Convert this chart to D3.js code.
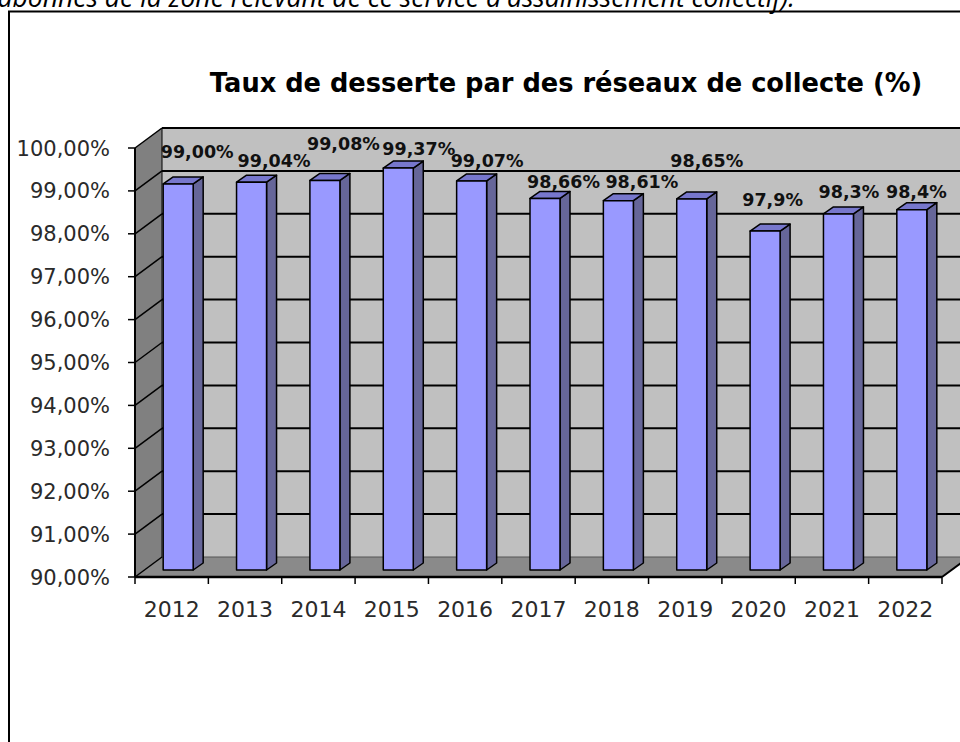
<!DOCTYPE html>
<html>
<head>
<meta charset="utf-8">
<script src="https://cdn.jsdelivr.net/npm/d3@7"></script>
<style>
  html, body { margin: 0; padding: 0; background: #fff; }
  svg { display: block; }
</style>
</head>
<body>
<svg id="chart" width="960" height="742"></svg>
<script>
// ---- data ----
const years = ["2012","2013","2014","2015","2016","2017","2018","2019","2020","2021","2022"];
const values = [99.00, 99.04, 99.08, 99.37, 99.07, 98.66, 98.61, 98.65, 97.9, 98.3, 98.4];
const valueLabels = ["99,00%","99,04%","99,08%","99,37%","99,07%","98,66%","98,61%","98,65%","97,9%","98,3%","98,4%"];
const yTicks = [90, 91, 92, 93, 94, 95, 96, 97, 98, 99, 100];
const titleText = "Taux de desserte par des réseaux de collecte (%)";
const topText = "abonnés de la zone relevant de ce service d'assainissement collectif).";

// ---- layout (manual label nudges as in the original) ----
const labelDx = [19, 22.5, 18.5, 20.5, 15.5, 18.5, 23.5, 15, 7.5, 10.5, 4.5];
const labelDy = [-26, -15, -30.5, -13, -14, -10.5, -12.6, -32, -25, -16, -11.6];

const svg = d3.select("#chart");
const fontAxis = "'DejaVu Sans', sans-serif";

const x = d3.scaleBand().domain(years).range([135, 942]).padding(0);
const y = d3.scaleLinear().domain([90, 100]).range([577, 148]);

const D = {dx: 27, dy: -20};      // wall depth
const B = {dx: 10, dy: -7};       // bar front plane offset / bar depth
const barW = 30;

// top italic text (cut off at the top edge, as in the original page capture)
svg.append("text")
  .attr("x", 795).attr("y", 7)
  .attr("text-anchor", "end")
  .style("font-family", "'Open Sans', sans-serif")
  .style("font-style", "italic")
  .style("font-size", "26.5px")
  .attr("fill", "#000")
  .text(topText);

// frame
svg.append("path")
  .attr("d", "M9,742 L9,11.5 L960,11.5")
  .attr("fill", "none").attr("stroke", "#000").attr("stroke-width", 2);

// title
svg.append("text")
  .attr("x", 566).attr("y", 92)
  .attr("text-anchor", "middle")
  .style("font-family", "'DejaVu Sans', sans-serif")
  .style("font-weight", "bold")
  .style("font-size", "25.7px")
  .text(titleText);

const x0 = x.range()[0], x1 = x.range()[1];
const yTop = y(100), yBot = y(90);

// back wall
svg.append("polygon")
  .attr("points", [[x0 + D.dx, yTop + D.dy], [x1 + D.dx, yTop + D.dy], [x1 + D.dx, yBot + D.dy], [x0 + D.dx, yBot + D.dy]].join(" "))
  .attr("fill", "#c0c0c0");

// left wall
svg.append("polygon")
  .attr("points", [[x0, yTop], [x0 + D.dx, yTop + D.dy], [x0 + D.dx, yBot + D.dy], [x0, yBot]].join(" "))
  .attr("fill", "#808080");

// floor
svg.append("polygon")
  .attr("points", [[x0, yBot], [x1, yBot], [x1 + D.dx, yBot + D.dy], [x0 + D.dx, yBot + D.dy]].join(" "))
  .attr("fill", "#8a8a8a");

// gridlines on back wall + left wall
const grid = svg.append("g").attr("stroke", "#000").attr("stroke-width", 2).attr("fill", "none");
yTicks.forEach(t => {
  if (t > 90) {
    grid.append("line")
      .attr("x1", x0 + D.dx).attr("x2", x1 + D.dx)
      .attr("y1", y(t) + D.dy).attr("y2", y(t) + D.dy);
  }
  grid.append("line")
    .attr("x1", x0).attr("y1", y(t))
    .attr("x2", x0 + D.dx).attr("y2", y(t) + D.dy)
    .attr("stroke-width", 1.5);
});
grid.append("line").attr("x1", x0 + D.dx).attr("x2", x0 + D.dx).attr("y1", yTop + D.dy).attr("y2", yBot + D.dy).attr("stroke-width", 1);
grid.append("line").attr("x1", x0 + D.dx).attr("x2", x1 + D.dx).attr("y1", yBot + D.dy).attr("y2", yBot + D.dy).attr("stroke-width", 1).attr("stroke", "#555");
grid.append("line").attr("x1", x1).attr("y1", yBot).attr("x2", x1 + D.dx).attr("y2", yBot + D.dy).attr("stroke-width", 2);

// y axis
const yAxisG = svg.append("g").attr("transform", `translate(${x0},0)`);
yAxisG.append("line").attr("x1", 0).attr("x2", 0).attr("y1", yTop).attr("y2", yBot).attr("stroke", "#000").attr("stroke-width", 2);
const locale = d3.formatLocale({decimal: ",", thousands: " ", grouping: [3], currency: ["", "€"]});
const fmt = locale.format(".2f");
yAxisG.selectAll(".ytick").data(yTicks).join("g")
  .attr("transform", d => `translate(0,${y(d)})`)
  .each(function(d) {
    const g = d3.select(this);
    g.append("line").attr("x1", -7).attr("x2", 0).attr("stroke", "#000").attr("stroke-width", 1.5);
    g.append("text").attr("x", -25).attr("dy", "0.36em")
      .attr("text-anchor", "end")
      .style("font-family", fontAxis).style("font-size", "21px").attr("fill", "#2a2a2a")
      .text(fmt(d) + "%");
  });

// x axis
const xAxisG = svg.append("g");
xAxisG.append("line").attr("x1", x0).attr("x2", x1).attr("y1", yBot).attr("y2", yBot).attr("stroke", "#000").attr("stroke-width", 2.5);
const bounds = years.map(d => x(d)).concat([x1]);
xAxisG.selectAll(".xt").data(bounds).join("line")
  .attr("x1", d => d).attr("x2", d => d).attr("y1", yBot).attr("y2", yBot + 7)
  .attr("stroke", "#000").attr("stroke-width", 1.5);
xAxisG.selectAll(".xl").data(years).join("text")
  .attr("x", d => x(d) + x.bandwidth() / 2).attr("y", 617)
  .attr("text-anchor", "middle")
  .style("font-family", fontAxis).style("font-size", "22px").attr("fill", "#2a2a2a")
  .text(d => d);

// bars
const bars = svg.append("g");
years.forEach((yr, i) => {
  const cx = x(yr) + x.bandwidth() / 2;
  const bx = cx - 8.5;
  const yt = y(values[i]) + B.dy;
  const yb = y(90) + B.dy;
  const g = bars.append("g").attr("stroke", "#000").attr("stroke-width", 1.5).attr("stroke-linejoin", "round");
  g.append("polygon").attr("points", [[bx + barW, yt], [bx + barW + B.dx, yt + B.dy], [bx + barW + B.dx, yb + B.dy], [bx + barW, yb]].join(" ")).attr("fill", "#666699");
  g.append("polygon").attr("points", [[bx, yt], [bx + barW, yt], [bx + barW + B.dx, yt + B.dy], [bx + B.dx, yt + B.dy]].join(" ")).attr("fill", "#7777cc");
  g.append("rect").attr("x", bx).attr("y", yt).attr("width", barW).attr("height", yb - yt).attr("fill", "#9999ff");
});

// value labels
svg.append("g").selectAll("text").data(years).join("text")
  .attr("x", (d, i) => x(d) + x.bandwidth() / 2 - 8.5 + barW / 2 + labelDx[i])
  .attr("y", (d, i) => y(values[i]) + B.dy + labelDy[i])
  .attr("text-anchor", "middle")
  .style("font-family", fontAxis).style("font-weight", "bold").style("font-size", "17.5px")
  .attr("fill", "#111")
  .text((d, i) => valueLabels[i]);
</script>
</body>
</html>
